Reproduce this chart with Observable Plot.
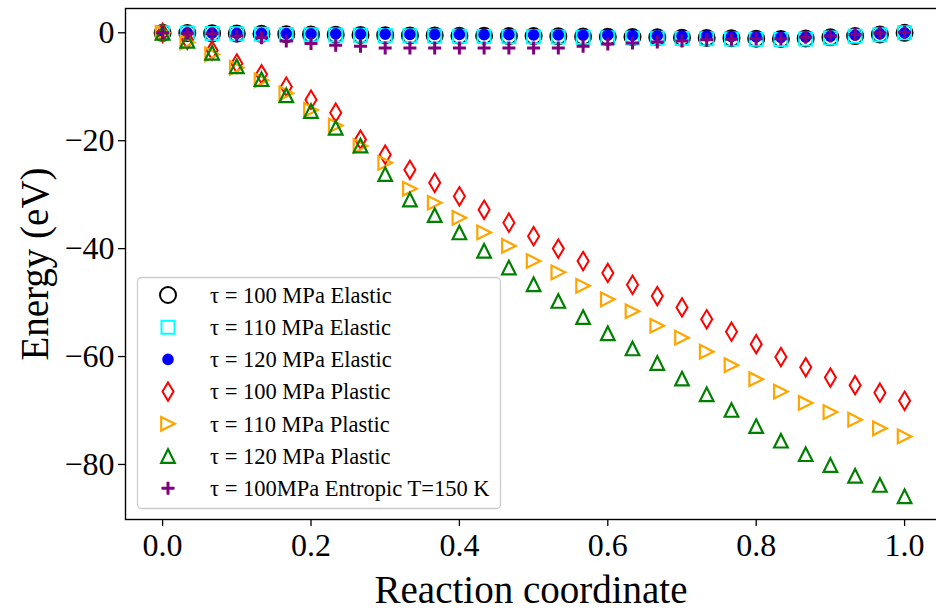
<!DOCTYPE html>
<html><head><meta charset="utf-8">
<script src="https://cdn.jsdelivr.net/npm/d3@7"></script>
<script src="https://cdn.jsdelivr.net/npm/@observablehq/plot@0.6"></script>
<style>
body{margin:0;background:#fff}
#chart svg{display:block}
</style>
</head><body><div id="chart"></div>
<script>
// ---- data ----
const reactionCoord = [0, 0.0333, 0.0667, 0.1, 0.1333, 0.1667, 0.2, 0.2333, 0.2667, 0.3, 0.3333,
  0.3667, 0.4, 0.4333, 0.4667, 0.5, 0.5333, 0.5667, 0.6, 0.6333, 0.6667, 0.7, 0.7333, 0.7667,
  0.8, 0.8333, 0.8667, 0.9, 0.9333, 0.9667, 1.0];
const elastic100 = [0,-0.05,-0.1,-0.15,-0.2,-0.25,-0.3,-0.35,-0.4,-0.45,-0.5,-0.5,-0.55,-0.55,-0.6,-0.6,-0.65,-0.7,-0.75,-0.8,-0.85,-0.9,-0.95,-1.0,-1.1,-1.15,-1.05,-0.85,-0.6,-0.3,0];
const elastic110 = [0,-0.05,-0.12,-0.2,-0.25,-0.3,-0.35,-0.4,-0.45,-0.5,-0.55,-0.6,-0.65,-0.7,-0.72,-0.75,-0.8,-0.85,-0.9,-0.95,-1.0,-1.05,-1.1,-1.15,-1.2,-1.25,-1.15,-0.95,-0.65,-0.35,0];
const elastic120 = [0,0,-0.05,-0.1,-0.1,-0.15,-0.2,-0.2,-0.25,-0.25,-0.3,-0.3,-0.3,-0.35,-0.35,-0.4,-0.4,-0.45,-0.45,-0.5,-0.55,-0.6,-0.6,-0.7,-0.75,-0.85,-0.8,-0.65,-0.45,-0.2,0];
const plastic100 = [0,-1.3,-3.3,-5.7,-7.7,-10.0,-12.4,-14.8,-19.8,-22.6,-25.4,-27.8,-30.3,-32.8,-35.2,-37.7,-40.0,-42.3,-44.5,-46.7,-48.8,-50.9,-53.1,-55.4,-57.7,-60.1,-62.0,-63.9,-65.3,-66.7,-68.2];
const plastic110 = [0,-1.8,-4.0,-6.5,-8.8,-11.2,-14.3,-17.2,-21.0,-24.1,-28.9,-31.5,-34.3,-37.0,-39.5,-42.3,-44.4,-46.9,-49.4,-51.6,-54.3,-56.5,-59.1,-61.6,-64.2,-66.5,-68.6,-70.3,-71.7,-73.3,-74.8];
const plastic120 = [0,-1.5,-3.7,-6.2,-8.6,-11.6,-14.5,-17.6,-20.9,-26.2,-30.9,-33.8,-37.0,-40.4,-43.5,-46.6,-49.7,-52.7,-55.7,-58.5,-61.2,-64.1,-67.0,-69.9,-72.9,-75.6,-78.1,-80.1,-82.1,-83.8,-85.9];
const entropic100 = [0,-0.1,-0.2,-0.6,-0.9,-1.5,-2.0,-2.3,-2.5,-2.8,-2.8,-2.8,-2.8,-2.8,-2.8,-2.8,-2.8,-2.5,-2.1,-1.9,-1.7,-1.5,-1.3,-1.2,-1.1,-1.1,-0.85,-0.6,-0.3,-0.05,0.1];
const seriesLabels = ["τ = 100 MPa Elastic","τ = 110 MPa Elastic","τ = 120 MPa Elastic",
  "τ = 100 MPa Plastic","τ = 110 MPa Plastic","τ = 120 MPa Plastic","τ = 100MPa Entropic T=150 K"];
const xTicks = [0, 0.2, 0.4, 0.6, 0.8, 1.0];
const yTicks = [0, -20, -40, -60, -80];

// ---- matplotlib-like marker shapes ----
const R = s => Math.sqrt(s / Math.PI);
const circleSym = {draw(c, s){const r=R(s); c.moveTo(r,0); c.arc(0,0,r,0,2*Math.PI);}};
const squareSym = {draw(c, s){const r=R(s); c.rect(-r,-r,2*r,2*r);}};
const thinDiamond = {draw(c, s){const r=R(s), w=r*0.6; c.moveTo(0,-r); c.lineTo(w,0); c.lineTo(0,r); c.lineTo(-w,0); c.closePath();}};
const triRight = {draw(c, s){const r=R(s); c.moveTo(r,0); c.lineTo(-r,r); c.lineTo(-r,-r); c.closePath();}};
const triUp = {draw(c, s){const r=R(s); c.moveTo(0,-r); c.lineTo(r,r); c.lineTo(-r,r); c.closePath();}};
const plusSym = {draw(c, s){const r=R(s); c.moveTo(-r,0); c.lineTo(r,0); c.moveTo(0,-r); c.lineTo(0,r);}};

const styles = [
  {values: elastic100, symbol: circleSym, r: 8, fill: "none", stroke: "black", sw: 2},
  {values: elastic110, symbol: squareSym, r: 6.5, fill: "none", stroke: "cyan", sw: 2},
  {values: elastic120, symbol: circleSym, r: 5.8, fill: "blue", stroke: "none", sw: 0},
  {values: plastic100, symbol: thinDiamond, r: 9.2, fill: "none", stroke: "red", sw: 2},
  {values: plastic110, symbol: triRight, r: 6.8, fill: "none", stroke: "orange", sw: 2.2},
  {values: plastic120, symbol: triUp, r: 6.8, fill: "none", stroke: "green", sw: 2.2},
  {values: entropic100, symbol: plusSym, r: 6.5, fill: "none", stroke: "purple", sw: 3}
];

const fontFamily = "'Liberation Serif', 'Times New Roman', Times, serif";
const minusFmt = d => (d < 0 ? "\u2212" + Math.abs(d) : String(d));

const dotMarks = styles.map((st, k) => {
  const rows = reactionCoord.map((x, i) => ({x, y: st.values[i], series: seriesLabels[k]}));
  return Plot.dot(rows, {x: "x", y: "y", symbol: st.symbol, r: st.r,
    fill: st.fill, stroke: st.stroke, strokeWidth: st.sw});
});

const chart = Plot.plot({
  width: 936, height: 614,
  marginLeft: 125, marginRight: 0, marginTop: 8, marginBottom: 95,
  style: {fontFamily, color: "black", background: "white", overflow: "visible"},
  x: {domain: [-0.05, 1.043]},
  y: {domain: [-90.2, 4.5]},
  marks: [
    ...dotMarks,
    Plot.frame({stroke: "black", strokeWidth: 1.4, insetRight: -8}),
    Plot.axisX({ticks: xTicks, tickSize: 7, tickPadding: 7, fontSize: 32, strokeWidth: 1.3,
      tickFormat: d3.format(".1f"), label: null}),
    Plot.axisY({ticks: yTicks, tickSize: 7, tickPadding: 4, fontSize: 32, strokeWidth: 1.3,
      tickFormat: minusFmt, label: null}),
    Plot.text(["Reaction coordinate"], {frameAnchor: "bottom", dy: 71, fontSize: 39,
      text: d => d, lineAnchor: "middle", textAnchor: "middle"}),
    Plot.text(["Energy (eV)"], {frameAnchor: "left", dx: -90, rotate: -90, fontSize: 39,
      text: d => d, lineAnchor: "middle", textAnchor: "middle"})
  ]
});
document.getElementById("chart").appendChild(chart);

// ---- legend (inside the axes, lower left) ----
const svg = d3.select(chart);
const lg = svg.append("g").attr("font-family", fontFamily).attr("text-anchor", "start");
lg.append("rect").attr("x", 137.5).attr("y", 277.5).attr("width", 363).attr("height", 231)
  .attr("rx", 4).attr("fill", "white").attr("fill-opacity", 0.8)
  .attr("stroke", "#cccccc").attr("stroke-width", 1.3);
styles.forEach((st, k) => {
  const cy = 295 + k * 32.2;
  lg.append("path").attr("transform", `translate(168,${cy})`)
    .attr("d", d3.symbol(st.symbol, Math.PI * st.r * st.r)())
    .attr("fill", st.fill).attr("stroke", st.stroke).attr("stroke-width", st.sw);
  lg.append("text").attr("x", 210).attr("y", cy).attr("dy", "0.35em")
    .attr("text-anchor", "start")
    .attr("font-size", 22.5).attr("fill", "black").text(seriesLabels[k]);
});
</script>
</body></html>
